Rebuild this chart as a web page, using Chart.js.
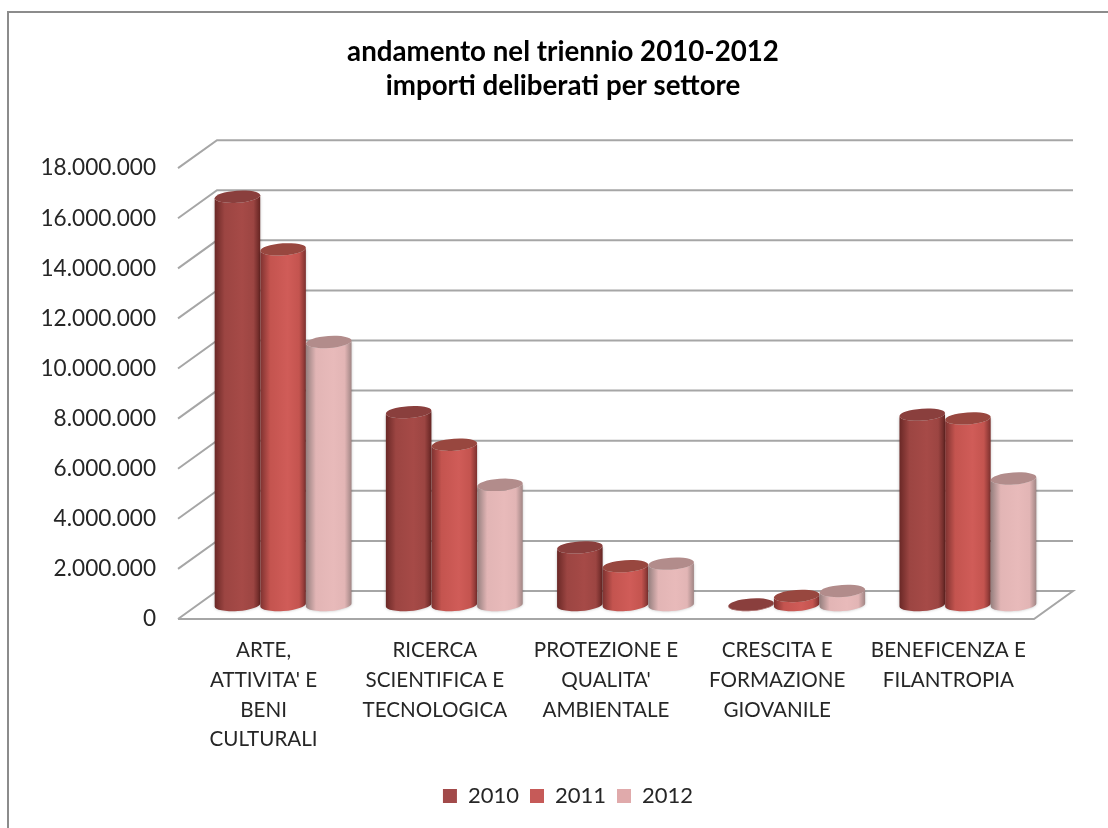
<!DOCTYPE html>
<html>
<head>
<meta charset="utf-8">
<style>
  html, body { margin: 0; padding: 0; background: #fff; overflow: hidden; }
  #frame { position: absolute; left: 7px; top: 11px; width: 1101px; height: 817px; border-left: 2px solid #8c8c8c; border-top: 2px solid #8c8c8c; box-sizing: border-box; }
  #myChart { position: absolute; left: 0; top: 0; }
</style>
<script src="https://cdn.jsdelivr.net/npm/chart.js@4"></script>
</head>
<body>
<div id="frame"></div>
<canvas id="myChart" width="1108" height="828"></canvas>
<script>
const categories = [
  ['ARTE,', "ATTIVITA' E", 'BENI', 'CULTURALI'],
  ['RICERCA', 'SCIENTIFICA E', 'TECNOLOGICA'],
  ['PROTEZIONE E', "QUALITA'", 'AMBIENTALE'],
  ['CRESCITA E', 'FORMAZIONE', 'GIOVANILE'],
  ['BENEFICENZA E', 'FILANTROPIA']
];
const values2010 = [16300000, 7700000, 2300000, 20000, 7600000];
const values2011 = [14200000, 6400000, 1550000, 360000, 7450000];
const values2012 = [10500000, 4800000, 1650000, 560000, 5050000];
const titleLines = ['andamento nel triennio 2010-2012', 'importi deliberati per settore'];

const FONT = "Lato, 'Open Sans', sans-serif";
const TEXT = '#262626';
const GRID = '#a6a6a6';

// spostamento della parete di fondo rispetto al piano frontale
const DEPTH_X = 39, DEPTH_Y = -28;

// colori del cilindro: bordo sx, luce, centro, bordo dx, tappo
const looks = [
  { edgeL: '#6a2826', light: '#9c4542', mid: '#a64a47', edgeR: '#642422', cap: '#8a3f3d', base: '#a24a4a' },
  { edgeL: '#7e3230', light: '#c4544f', mid: '#d05c58', edgeR: '#7c302e', cap: '#98473f', base: '#c65a58' },
  { edgeL: '#957f7e', light: '#e2b5b5', mid: '#e8baba', edgeR: '#a08584', cap: '#b28c8b', base: '#e0aaab' }
];

// griglia 3D: pareti disegnate dalle posizioni della scala y
const walls3d = {
  id: 'walls3d',
  afterLayout(chart) {
    // l'asse y e' stretto per centrare il titolo: allarga l'area delle etichette
    chart.scales.y.left = 0;
    // la legenda nell'originale e' un po' piu' a destra del titolo
    chart.legend.left += 10;
  },
  beforeDatasetsDraw(chart) {
    const ctx = chart.ctx;
    const y = chart.scales.y;
    const left = chart.chartArea.left, right = chart.chartArea.right;
    ctx.save();
    ctx.strokeStyle = GRID;
    ctx.lineWidth = 2;
    y.ticks.forEach(t => {
      const py = y.getPixelForValue(t.value);
      ctx.beginPath();
      ctx.moveTo(left, py);
      ctx.lineTo(left + DEPTH_X, py + DEPTH_Y);
      ctx.lineTo(right + DEPTH_X, py + DEPTH_Y);
      if (t.value === 0) {
        ctx.lineTo(right, py);
        ctx.lineTo(left, py);
      }
      ctx.stroke();
    });
    ctx.restore();
  }
};

// le barre vengono disegnate come cilindri a meta' profondita'
const cylinders = {
  id: 'cylinders',
  beforeDatasetsDraw(chart) {
    const ctx = chart.ctx;
    const dx = DEPTH_X / 2, dy = DEPTH_Y / 2;
    const tilt = -0.07;
    chart.data.labels.forEach((_, i) => {
      chart.data.datasets.forEach((ds, d) => {
        const bar = chart.getDatasetMeta(d).data[i];
        const look = looks[d];
        const cx = bar.x + dx;
        const rx = bar.width / 2;
        const ry = 6;
        const top = bar.y + dy;
        const bottom = bar.base + dy;
        const g = ctx.createLinearGradient(cx - rx, 0, cx + rx, 0);
        g.addColorStop(0, look.edgeL);
        g.addColorStop(0.22, look.light);
        g.addColorStop(0.6, look.mid);
        g.addColorStop(0.85, look.light);
        g.addColorStop(1, look.edgeR);
        ctx.save();
        ctx.shadowColor = 'rgba(0,0,0,0.25)';
        ctx.shadowBlur = 3;
        ctx.fillStyle = g;
        ctx.beginPath();
        ctx.ellipse(cx, bottom, rx, ry, tilt, 0, Math.PI);
        ctx.ellipse(cx, top, rx, ry, tilt, Math.PI, 0, true);
        ctx.closePath();
        ctx.fill();
        ctx.shadowColor = 'transparent';
        ctx.fillStyle = look.cap;
        ctx.beginPath();
        ctx.ellipse(cx, top, rx, ry, tilt, 0, Math.PI * 2);
        ctx.fill();
        ctx.restore();
      });
    });
    return false;
  }
};

new Chart(document.getElementById('myChart'), {
  type: 'bar',
  data: {
    labels: categories,
    datasets: [
      { label: '2010', data: values2010, backgroundColor: looks[0].base },
      { label: '2011', data: values2011, backgroundColor: looks[1].base },
      { label: '2012', data: values2012, backgroundColor: looks[2].base }
    ]
  },
  options: {
    responsive: false,
    animation: false,
    layout: { padding: { top: 35, right: 74, bottom: 11, left: 92 } },
    datasets: { bar: { categoryPercentage: 0.8, barPercentage: 1 } },
    plugins: {
      title: {
        display: true,
        text: titleLines,
        color: '#000',
        font: { family: FONT, size: 27.7, weight: 'bold', lineHeight: 1.23 },
        padding: { top: 0, bottom: 65 }
      },
      legend: {
        position: 'bottom',
        labels: {
          color: TEXT,
          font: { family: FONT, size: 22 },
          boxWidth: 14,
          boxHeight: 14,
          padding: 11
        }
      },
      tooltip: { enabled: false }
    },
    scales: {
      x: {
        grid: { display: false },
        border: { display: false },
        afterFit(scale) { scale.height = 155; },
        ticks: {
          color: TEXT,
          font: { family: FONT, size: 20.6, lineHeight: 1.44 },
          maxRotation: 0,
          autoSkip: false,
          padding: 9
        }
      },
      y: {
        min: 0,
        max: 18000000,
        grid: { display: false },
        border: { display: false },
        afterFit(scale) { scale.width = 86; },
        ticks: {
          stepSize: 2000000,
          color: TEXT,
          font: { family: FONT, size: 22.6 },
          padding: 14,
          callback: v => String(v).replace(/\B(?=(\d{3})+$)/g, '.')
        }
      }
    }
  },
  plugins: [walls3d, cylinders]
});
</script>
</body>
</html>
